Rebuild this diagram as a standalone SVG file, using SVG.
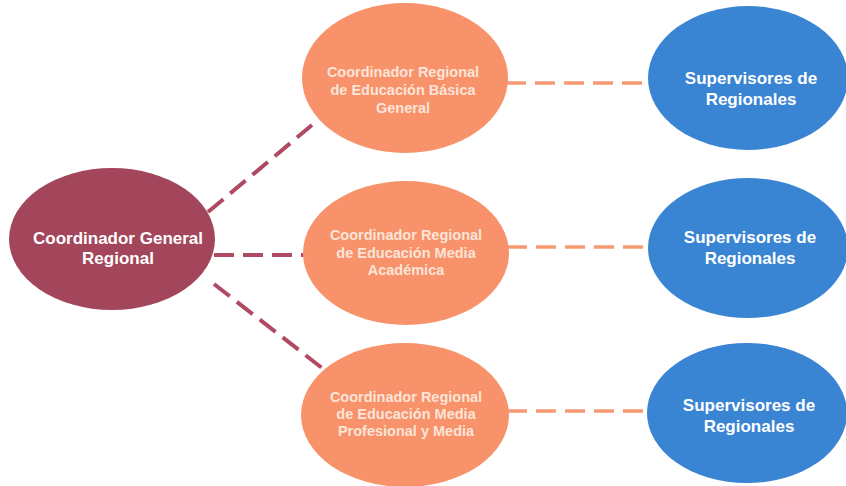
<svg xmlns="http://www.w3.org/2000/svg" width="846" height="486" viewBox="0 0 846 486">
<style>
.t{font-family:"Liberation Sans",Arial,sans-serif;font-weight:bold;text-anchor:middle}
.big{font-size:17px;fill:#ffffff}
.sm{font-size:14.5px;fill:#fce4d8}
.m{fill:#a4465b}
.o{fill:#f7926a}
.b{fill:#3a85d3}
.lm{stroke:#b04a63;stroke-width:4;stroke-dasharray:20 9;fill:none}
.lo{stroke:#f59a72;stroke-width:3.5;stroke-dasharray:20 9;fill:none}
</style>
<rect width="846" height="486" fill="#ffffff"/>
<g id="connectors">
<line class="lm" x1="208" y1="212" x2="312" y2="125"/>
<line class="lm" x1="214" y1="255" x2="304" y2="255"/>
<line class="lm" x1="214" y1="284" x2="322" y2="368"/>
<line class="lo" x1="506" y1="83" x2="650" y2="83"/>
<line class="lo" x1="507" y1="247" x2="650" y2="247"/>
<line class="lo" x1="507" y1="411" x2="650" y2="411"/>
</g>
<g id="n-general">
<ellipse class="m" cx="112" cy="239" rx="103" ry="71"/>
<text class="t big" x="118" y="244">Coordinador General</text>
<text class="t big" x="118" y="264">Regional</text>
</g>
<g id="n-basica">
<ellipse class="o" cx="405" cy="78" rx="103" ry="75"/>
<text class="t sm" x="403" y="77">Coordinador Regional</text>
<text class="t sm" x="403" y="95">de Educación Básica</text>
<text class="t sm" x="403" y="113">General</text>
</g>
<g id="n-academica">
<ellipse class="o" cx="406" cy="253" rx="103" ry="72"/>
<text class="t sm" x="406" y="240">Coordinador Regional</text>
<text class="t sm" x="406" y="258">de Educación Media</text>
<text class="t sm" x="406" y="275">Académica</text>
</g>
<g id="n-profesional">
<ellipse class="o" cx="405" cy="415" rx="104" ry="72"/>
<text class="t sm" x="406" y="402">Coordinador Regional</text>
<text class="t sm" x="406" y="419">de Educación Media</text>
<text class="t sm" x="406" y="436">Profesional y Media</text>
</g>
<g id="n-sup1">
<ellipse class="b" cx="748" cy="78" rx="100" ry="72"/>
<text class="t big" x="751" y="84">Supervisores de</text>
<text class="t big" x="751" y="105">Regionales</text>
</g>
<g id="n-sup2">
<ellipse class="b" cx="748" cy="248" rx="100" ry="70"/>
<text class="t big" x="750" y="243">Supervisores de</text>
<text class="t big" x="750" y="264">Regionales</text>
</g>
<g id="n-sup3">
<ellipse class="b" cx="747" cy="413" rx="100" ry="70"/>
<text class="t big" x="749" y="411">Supervisores de</text>
<text class="t big" x="749" y="432">Regionales</text>
</g>
</svg>
